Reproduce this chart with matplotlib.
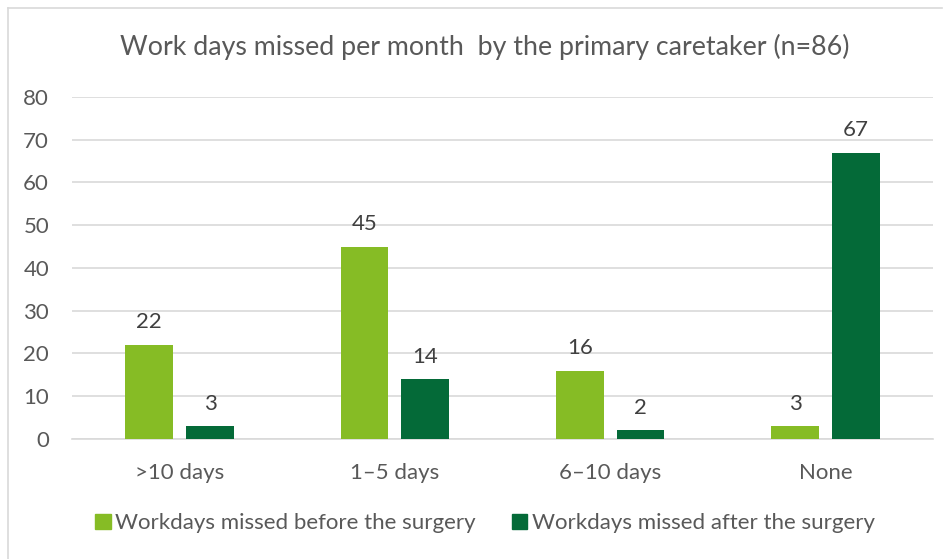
import matplotlib
matplotlib.use('Agg')
import matplotlib.pyplot as plt
import numpy as np
from matplotlib.patches import Rectangle
from matplotlib.lines import Line2D

########
# work days missed chart, before vs after the surgery

categories = ['>10 days', '1\u20135 days', '6\u201310 days', 'None']
before = [22, 45, 16, 3]
after = [3, 14, 2, 67]
series_names = ['Workdays missed before the surgery', 'Workdays missed after the surgery']
title = 'Work days missed per month  by the primary caretaker (n=86)'

light_green = '#86BC25'
dark_green = '#046A38'
grey_txt = '#595959'
grid_col = '#D9D9D9'

plt.rcParams['font.family'] = ['Lato', 'DejaVu Sans']

fig = plt.figure(figsize=(9.51, 5.59), dpi=100)
ax = fig.add_axes([0.0757, 0.2147, 0.9053, 0.6118])

x = np.arange(len(categories))
w = 0.222
off = 0.141
b1 = ax.bar(x - off, before, w, color=light_green, zorder=3)
b2 = ax.bar(x + off, after, w, color=dark_green, zorder=3)

for bars in (b1, b2):
    for r in bars:
        ax.annotate(f'{r.get_height():.0f}', (r.get_x() + r.get_width() / 2, r.get_height()),
                    xytext=(0, 9), textcoords='offset points', ha='center', va='bottom',
                    fontsize=16, color='#404040')

ax.set_xlim(-0.5, len(categories) - 0.5)
ax.set_ylim(0, 80)
ax.set_yticks(range(0, 81, 10))
ax.set_xticks(x)
ax.set_xticklabels(categories)
ax.tick_params(axis='both', length=0, labelsize=16, labelcolor=grey_txt)
ax.tick_params(axis='y', pad=16.5)
ax.tick_params(axis='x', pad=17)
ax.grid(axis='y', color=grid_col, linewidth=1.2, zorder=0)
for s in ['top', 'right', 'left']:
    ax.spines[s].set_visible(False)
ax.spines['bottom'].set_color(grid_col)
ax.spines['bottom'].set_linewidth(1.2)

fig.text(0.51, 0.916, title, ha='center', va='center', fontsize=19.3, color=grey_txt)

handles = [Rectangle((0, 0), 1, 1, color=light_green), Rectangle((0, 0), 1, 1, color=dark_green)]
fig.legend(handles, series_names, loc='center', bbox_to_anchor=(0.51, 0.064), ncol=2, frameon=False,
           fontsize=16, labelcolor=grey_txt, handlelength=0.7, handleheight=0.7,
           handletextpad=0.2, columnspacing=1.6)

# chart frame (top and left edges visible)
fig.add_artist(Line2D([8 / 951, 942 / 951], [1 - 8 / 559, 1 - 8 / 559], color=grid_col, lw=1.2))
fig.add_artist(Line2D([8 / 951, 8 / 951], [0, 1 - 8 / 559], color=grid_col, lw=1.2))

plt.savefig('out.png', dpi=100)
